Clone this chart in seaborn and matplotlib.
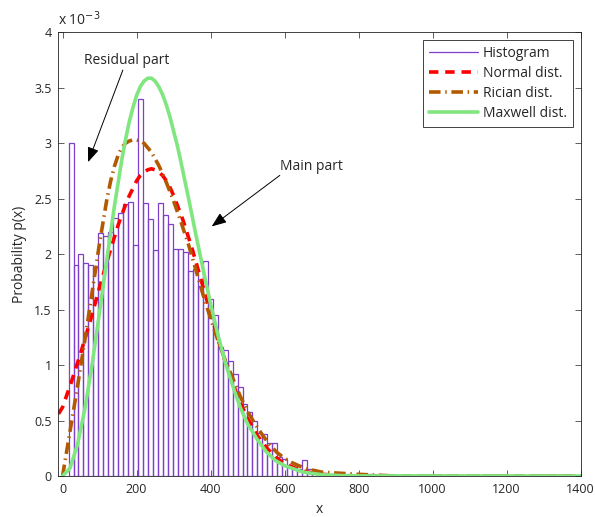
import numpy as np
import pandas as pd
import matplotlib
matplotlib.use("Agg")
import matplotlib.pyplot as plt
import seaborn as sns
from matplotlib.lines import Line2D
from matplotlib.ticker import FormatStrFormatter

# histogram bin heights (units of 1e-3), bins start at 16.2 with width 13.43
bin_start = 16.2
bin_width = 13.43
hist_vals = [3.00, 1.90, 2.00, 1.92, 1.90, 1.88, 2.19, 2.16, 2.20, 2.33,
             2.37, 2.45, 2.47, 2.08, 3.40, 2.46, 2.32, 2.04, 2.46, 2.35,
             2.27, 2.05, 2.05, 2.02, 1.85, 1.87, 1.71, 1.94, 1.60, 1.45,
             1.16, 1.14, 1.04, 0.92, 0.80, 0.65, 0.58, 0.50, 0.39, 0.38,
             0.30, 0.30, 0.17, 0.15, 0.10, 0.08, 0.06, 0.145, 0.06, 0.04,
             0.03, 0.03, 0.02, 0.02, 0.01, 0.0, 0.02, 0.01, 0.0, 0.02,
             0.02, 0.0, 0.01]

# fitted curves (units of 1e-3)
normal_x = [-11, 0, 25, 50, 75, 100, 125, 150, 175, 200, 210, 220, 230, 240,
            250, 260, 270, 285, 300, 325, 350, 375, 400, 425, 450, 475, 500,
            525, 550, 575, 600, 650, 700, 750, 800, 900, 1400]
normal_y = [0.56, 0.62, 0.86, 1.12, 1.40, 1.70, 1.99, 2.26, 2.49, 2.66, 2.71,
            2.74, 2.76, 2.77, 2.76, 2.74, 2.71, 2.64, 2.53, 2.31, 2.05, 1.76,
            1.47, 1.18, 0.93, 0.70, 0.52, 0.37, 0.26, 0.17, 0.11, 0.043,
            0.015, 0.004, 0.001, 0.0, 0.0]

rician_x = [0, 20, 40, 60, 80, 100, 120, 130, 140, 150, 160, 170, 180, 190,
            200, 210, 220, 230, 240, 260, 280, 300, 320, 340, 360, 380, 400,
            420, 440, 460, 480, 500, 520, 540, 560, 580, 600, 620, 640, 660,
            680, 700, 750, 800, 850, 900, 1400]
rician_y = [0.0, 0.40, 0.80, 1.22, 1.66, 2.10, 2.50, 2.66, 2.79, 2.89, 2.96,
            3.00, 3.02, 3.03, 3.03, 3.02, 3.00, 2.96, 2.92, 2.80, 2.65, 2.48,
            2.29, 2.09, 1.86, 1.63, 1.42, 1.22, 1.04, 0.88, 0.72, 0.58, 0.47,
            0.37, 0.28, 0.21, 0.16, 0.12, 0.09, 0.065, 0.05, 0.035, 0.025,
            0.015, 0.008, 0.0, 0.0]

maxwell_x = [0, 20, 40, 60, 80, 100, 120, 140, 160, 170, 180, 190, 200, 210,
             220, 230, 240, 250, 260, 270, 280, 290, 300, 310, 320, 340, 360,
             380, 400, 420, 440, 460, 480, 500, 525, 550, 575, 600, 650, 700,
             750, 800, 1400]
maxwell_y = [0.0, 0.07, 0.28, 0.60, 1.01, 1.48, 1.96, 2.43, 2.85, 3.03, 3.19,
             3.32, 3.43, 3.51, 3.56, 3.586, 3.587, 3.56, 3.51, 3.44, 3.35,
             3.24, 3.11, 2.98, 2.83, 2.51, 2.18, 1.86, 1.55, 1.27, 1.02, 0.81,
             0.62, 0.47, 0.335, 0.22, 0.14, 0.093, 0.035, 0.012, 0.004, 0.001,
             0.0]

purple = "#7E3FCB"
red = "#FF0000"
brown = "#B35A00"
green = "#80E680"

sns.set_style("ticks")
plt.rcParams["font.family"] = ["Open Sans", "DejaVu Sans"]
plt.rcParams["font.size"] = 10
plt.rcParams["xtick.direction"] = "in"
plt.rcParams["ytick.direction"] = "in"

fig = plt.figure(figsize=(5.95, 5.17), dpi=100)
ax = fig.add_axes([0.0983, 0.0793, 0.8776, 0.8582])

edges = [bin_start + bin_width * i for i in range(len(hist_vals) + 1)]
centers = [e + bin_width / 2 for e in edges[:-1]]
hist_df = pd.DataFrame({"x": centers, "w": hist_vals})
sns.histplot(data=hist_df, x="x", weights="w", bins=edges, fill=False,
             element="bars", color=purple, linewidth=0.9, ax=ax)

sns.lineplot(x=normal_x, y=normal_y, color=red, linewidth=2.6,
             linestyle=(0, (2.6, 1.9)), ax=ax)
sns.lineplot(x=rician_x, y=rician_y, color=brown, linewidth=2.6,
             linestyle=(0, (3.2, 1.3, 0.4, 1.3)), ax=ax)
sns.lineplot(x=maxwell_x, y=maxwell_y, color=green, linewidth=2.6, ax=ax)

ax.set_xlim(-11, 1400)
ax.set_ylim(0, 4)
ax.set_xticks(np.arange(0, 1401, 200))
ax.set_yticks(np.arange(0, 4.01, 0.5))
ax.yaxis.set_major_formatter(FormatStrFormatter("%g"))
ax.tick_params(top=True, right=True, length=4, width=0.6, color="#444444",
               labelsize=9)
ax.tick_params(axis="x", pad=5)
ax.tick_params(axis="y", pad=5)
for s in ax.spines.values():
    s.set_linewidth(0.6)
    s.set_color("#222222")
ax.set_xlabel("x", labelpad=4)
ax.set_ylabel("Probability p(x)", labelpad=5)
ax.text(0.0, 1.008, "x 10$^{-3}$", transform=ax.transAxes, ha="left",
        va="bottom", fontsize=10)

arrow = dict(arrowstyle="-|>,head_length=0.9,head_width=0.35",
             color="black", lw=0.7, shrinkA=0, shrinkB=0)
ax.annotate("", xy=(69, 2.83), xytext=(163, 3.66), arrowprops=arrow)
ax.text(174, 3.75, "Residual part", ha="center", va="center", fontsize=10)
ax.annotate("", xy=(403, 2.25), xytext=(587, 2.71), arrowprops=arrow)
ax.text(587, 2.79, "Main part", ha="left", va="center", fontsize=10)

handles = [Line2D([], [], color=purple, lw=0.9)] + ax.lines[:3]
labels = ["Histogram", "Normal dist.", "Rician dist.", "Maxwell dist."]
leg = ax.legend(handles, labels, loc="upper right",
                bbox_to_anchor=(0.9853, 0.9826), borderaxespad=0,
                handlelength=3.5, handletextpad=0.35, labelspacing=0.35,
                borderpad=0.45, fancybox=False, framealpha=1,
                edgecolor="#222222", fontsize=10)
leg.get_frame().set_linewidth(0.6)

fig.savefig("out.png", dpi=100)
